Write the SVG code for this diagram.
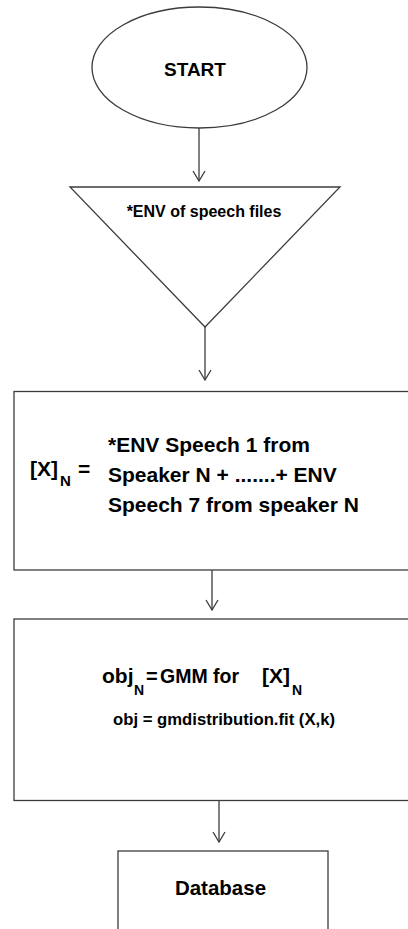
<svg xmlns="http://www.w3.org/2000/svg" width="408" height="929" viewBox="0 0 408 929">
  <style>
    .shape { fill: #ffffff; stroke: #3c3c3c; stroke-width: 1.3; }
    .conn { fill: none; stroke: #3c3c3c; stroke-width: 1.3; }
    .lbl { font-family: "Liberation Sans", Arial, sans-serif; font-weight: bold; fill: #000000; }
  </style>
  <defs>
    <marker id="vhead" viewBox="-11 -7 12 14" refX="0" refY="0" markerWidth="12" markerHeight="14" markerUnits="userSpaceOnUse" orient="auto">
      <path d="M-10,-6 L0,0 L-10,6" fill="none" stroke="#3c3c3c" stroke-width="1.3"/>
    </marker>
  </defs>
  <rect width="408" height="929" fill="#ffffff"/>

  <g id="start">
    <ellipse class="shape" cx="199.5" cy="67.5" rx="107.5" ry="60.5"/>
    <text class="lbl" x="195" y="76" font-size="19" text-anchor="middle">START</text>
  </g>

  <g id="env-input">
    <polygon class="shape" points="70,187 340,187 205,327"/>
    <text class="lbl" x="204" y="217" font-size="16" text-anchor="middle">*ENV of speech files</text>
  </g>

  <g id="concat">
    <rect class="shape" x="14" y="391.5" width="420" height="178.5"/>
    <text class="lbl" x="30" y="476" font-size="21">[X]</text>
    <text class="lbl" x="60" y="486" font-size="15">N</text>
    <text class="lbl" x="78" y="476" font-size="21">=</text>
    <text class="lbl" x="108" y="452" font-size="21">*ENV Speech 1 from</text>
    <text class="lbl" x="108" y="482" font-size="21">Speaker N + .......+ ENV</text>
    <text class="lbl" x="108" y="512" font-size="21">Speech 7 from speaker N</text>
  </g>

  <g id="gmm">
    <rect class="shape" x="14" y="619" width="420" height="181.5"/>
    <text class="lbl" x="102" y="683" font-size="21">obj</text>
    <text class="lbl" x="134" y="695" font-size="14">N</text>
    <text class="lbl" x="146" y="683" font-size="20">=</text>
    <text class="lbl" x="160" y="683" font-size="19.5">GMM for</text>
    <text class="lbl" x="262" y="683" font-size="21">[X]</text>
    <text class="lbl" x="292" y="695" font-size="14">N</text>
    <text class="lbl" x="113" y="725" font-size="16.7">obj = gmdistribution.fit (X,k)</text>
  </g>

  <g id="database">
    <rect class="shape" x="118" y="851" width="210" height="100"/>
    <text class="lbl" x="220.5" y="895" font-size="20.5" text-anchor="middle">Database</text>
  </g>

  <g id="connectors">
    <line class="conn" x1="199" y1="128" x2="199" y2="181" marker-end="url(#vhead)"/>
    <line class="conn" x1="205" y1="327" x2="205" y2="380" marker-end="url(#vhead)"/>
    <line class="conn" x1="212" y1="570" x2="212" y2="610" marker-end="url(#vhead)"/>
    <line class="conn" x1="219" y1="801" x2="219" y2="842" marker-end="url(#vhead)"/>
  </g>
</svg>
